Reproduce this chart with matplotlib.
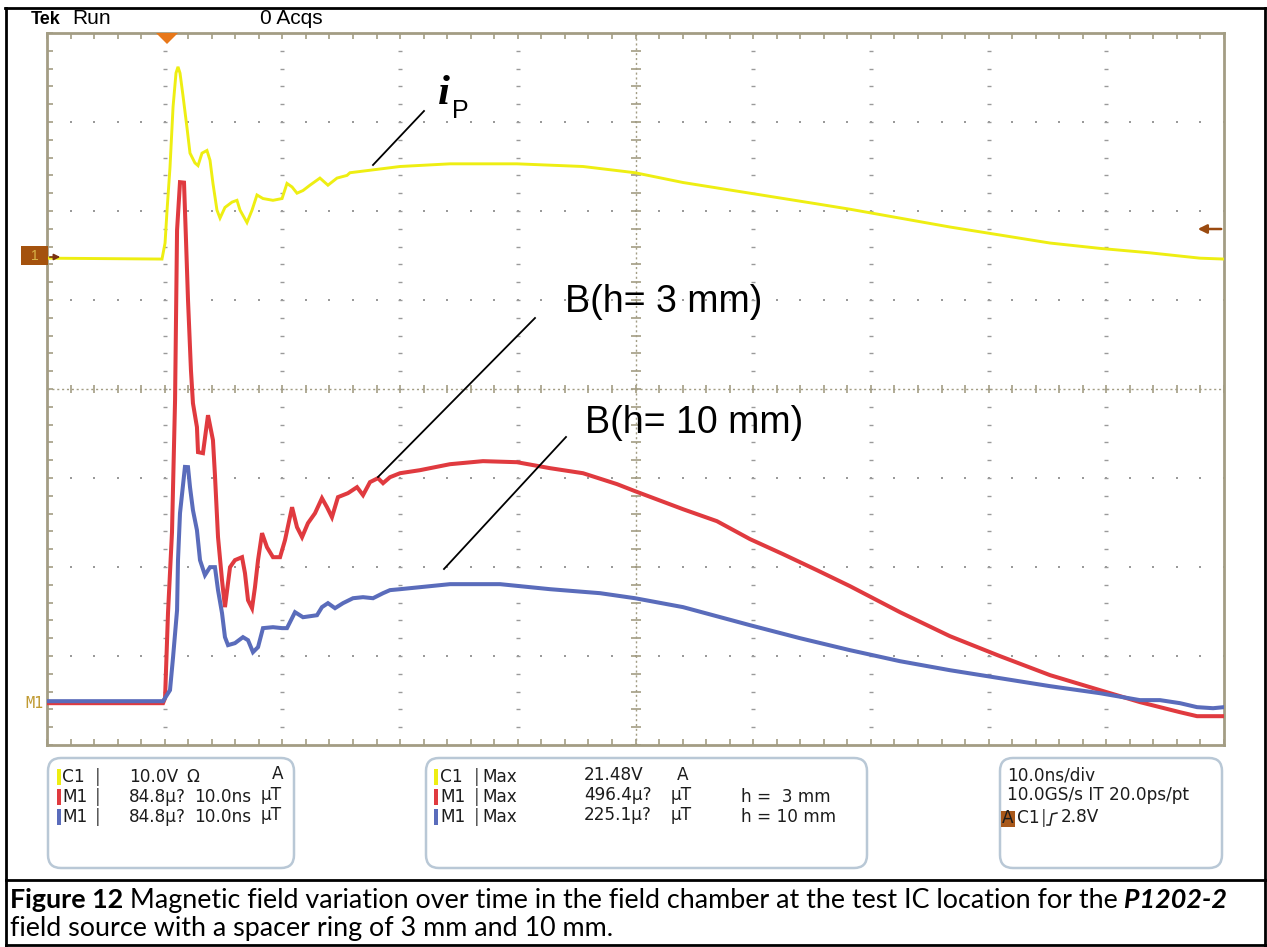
import matplotlib
matplotlib.use('Agg')
import matplotlib.pyplot as plt
import numpy as np
from matplotlib.patches import FancyBboxPatch, Rectangle, Polygon

# ---------------- data ----------------
ip_time_ns = [0.0, 9.77, 10.03, 10.20, 10.45, 10.71, 10.96, 11.13, 11.30, 11.55, 11.89,
              12.15, 12.57, 12.83, 13.17, 13.59, 13.85, 14.10, 14.44, 14.70, 15.12, 15.72,
              16.14, 16.40, 16.99, 17.42, 17.84, 18.35, 19.20, 19.97, 20.39, 20.82, 21.24,
              21.75, 22.34, 23.19, 23.87, 24.64, 25.49, 25.74, 29.99, 34.24, 39.93, 45.54,
              49.96, 54.04, 59.73, 65.42, 68.22, 72.47, 76.72, 80.97, 85.22, 89.46, 93.71,
              97.96, 100.0]
ip_volt = [0.0, -0.1, 1.7, 5.4, 10.2, 17.0, 20.8, 21.5, 20.8, 18.3, 14.7,
           11.8, 10.7, 10.4, 11.8, 12.1, 11.0, 8.4, 5.4, 4.5, 5.7, 6.3,
           6.5, 5.4, 4.0, 5.4, 7.1, 6.7, 6.5, 6.7, 8.4, 8.0, 7.3,
           7.6, 8.2, 9.0, 8.2, 9.0, 9.3, 9.6, 10.3, 10.6, 10.6, 10.3,
           9.6, 8.5, 7.3, 6.1, 5.5, 4.5, 3.5, 2.6, 1.7, 1.1, 0.6,
           0.0, -0.1]

b3_time_ns = [0.0, 9.86, 10.03, 10.28, 10.62, 10.88, 11.05, 11.30, 11.64, 11.81, 11.98,
              12.23, 12.40, 12.74, 12.83, 13.25, 13.68, 14.10, 14.27, 14.53, 14.87, 15.12,
              15.55, 15.97, 16.57, 16.82, 17.08, 17.42, 17.67, 17.93, 18.27, 18.69, 19.20,
              19.80, 20.22, 20.82, 21.24, 21.67, 22.17, 22.77, 23.36, 23.79, 24.21, 24.72,
              25.57, 26.34, 26.85, 27.44, 28.12, 28.55, 29.14, 29.99, 31.69, 34.24, 37.04,
              39.93, 42.74, 45.54, 48.43, 49.96, 54.04, 56.92, 59.73, 62.53, 65.42, 68.22,
              72.47, 76.72, 80.97, 85.22, 89.46, 91.16, 92.86, 94.56, 96.26, 97.71, 100.0]
b3_uT = [0.0, 0.0, 4.8, 85.8, 162.9, 288.7, 450.7, 496.4, 496.0, 441.1, 384.2,
         317.3, 285.8, 263.0, 239.2, 238.2, 274.4, 250.6, 217.2, 158.2, 117.2, 91.5,
         129.6, 136.3, 139.1, 123.9, 98.1, 90.5, 110.5, 136.3, 162.0, 148.6, 139.1,
         139.1, 155.3, 186.7, 167.7, 158.2, 171.5, 181.0, 195.3, 186.7, 177.2, 196.3,
         200.1, 205.8, 198.2, 210.6, 214.4, 209.6, 215.3, 219.1, 222.0, 227.7, 230.6,
         229.6, 223.9, 219.1, 208.7, 202.0, 184.8, 173.4, 156.3, 142.0, 126.7, 111.5,
         86.7, 63.8, 44.8, 26.7, 12.4, 6.7, 1.0, -3.8, -8.6, -12.4, -12.4]

b10_time_ns = [0.0, 9.86, 10.45, 10.71, 11.05, 11.13, 11.30, 11.72, 11.98, 12.15, 12.40,
               12.74, 13.00, 13.42, 13.85, 14.27, 14.53, 14.87, 15.12, 15.38, 15.97, 16.65,
               17.08, 17.50, 17.93, 18.35, 19.20, 19.97, 20.39, 21.07, 21.75, 22.94, 23.36,
               23.87, 24.47, 25.15, 26.00, 26.85, 27.70, 28.55, 29.14, 29.99, 34.24, 38.49,
               42.74, 46.99, 49.96, 54.04, 59.73, 63.98, 68.22, 72.47, 76.72, 80.97, 85.22,
               89.46, 92.86, 94.56, 96.26, 97.71, 99.07, 100.0]
b10_uT = [1.9, 1.9, 12.4, 43.8, 88.6, 136.3, 181.0, 225.1, 224.9, 205.8, 183.9,
          164.8, 136.3, 122.0, 129.6, 129.6, 107.7, 85.8, 62.9, 55.3, 57.2, 62.9,
          60.0, 48.6, 53.4, 71.5, 72.4, 71.5, 71.5, 86.7, 81.9, 83.8, 91.5,
          95.3, 90.5, 95.3, 100.0, 101.0, 100.0, 104.8, 107.7, 108.6, 113.4, 113.4,
          108.6, 104.8, 100.0, 91.5, 74.3, 61.9, 50.5, 40.0, 31.4, 23.8, 16.2,
          9.5, 2.9, 2.9, 0.0, -3.8, -4.8, -3.8]

ch1_volts_per_div = 10.0
m1_uT_per_div = 84.8
ch1_offset_div = 5.47
m1_offset_div = 0.47
ns_per_div = 10.0
n_xdiv, n_ydiv = 10, 8

# ---------------- figure ----------------
W, H = 1267, 947
fig = plt.figure(figsize=(W / 100, H / 100), dpi=100)
fig.patch.set_facecolor('white')

TAN = '#a39d84'
GRIDC = '#9a9a9a'
YEL = '#eeee12'
RED = '#e03a3f'
BLU = '#5a6cbb'

px_l, px_r, px_t, px_b = 47, 1224, 33, 745
ax = fig.add_axes([px_l / W, 1 - px_b / H, (px_r - px_l) / W, (px_b - px_t) / H])
ax.set_xlim(0, n_xdiv * ns_per_div)
ax.set_ylim(0, n_ydiv)
ax.set_facecolor('white')
for s in ax.spines.values():
    s.set_color(TAN)
    s.set_linewidth(2.0)
ax.set_xticks(np.arange(0, 101, 10))
ax.set_xticks(np.arange(0, 101, 2), minor=True)
ax.set_yticks(np.arange(0, 9, 1))
ax.set_yticks(np.arange(0, 8.01, 0.2), minor=True)
ax.tick_params(which='both', direction='in', top=True, right=True, bottom=True, left=True,
               length=4, width=1.2, color=TAN, labelbottom=False, labelleft=False)

# graticule dots
minor_x = np.arange(0, 101, 2)
minor_y = np.arange(0, 8.01, 0.2)
for xm in range(10, 100, 10):
    if xm == 50:
        continue
    ax.scatter(np.full(len(minor_y), xm), minor_y, marker='_', s=6, color=GRIDC,
               linewidths=1.0, zorder=1)
for ym in range(1, 8):
    if ym == 4:
        continue
    ax.scatter(minor_x, np.full(len(minor_x), ym), marker='s', s=1.6, color=GRIDC,
               linewidths=0, zorder=1)
# centre cross
ax.axhline(4, color=TAN, lw=1.0, ls=(0, (1.5, 2)), zorder=1)
ax.axvline(50, color=TAN, lw=1.0, ls=(0, (1.5, 2)), zorder=1)
ax.plot(minor_x, np.full(len(minor_x), 4), ls='none', marker='|', ms=6, mew=1.2,
        color=TAN, zorder=1)
ax.plot(np.full(len(minor_y), 50), minor_y, ls='none', marker='_', ms=7, mew=1.2,
        color=TAN, zorder=1)

# channel axes
ax_m = ax.twinx()
ax_m.set_ylim(-m1_offset_div * m1_uT_per_div, (n_ydiv - m1_offset_div) * m1_uT_per_div)
ax_m.set_axis_off()
ax_c = ax.twinx()
ax_c.set_ylim(-ch1_offset_div * ch1_volts_per_div, (n_ydiv - ch1_offset_div) * ch1_volts_per_div)
ax_c.set_axis_off()
for a in (ax_m, ax_c):
    a.set_xlim(0, n_xdiv * ns_per_div)

ax_m.plot(b3_time_ns, b3_uT, color=RED, lw=2.9, solid_joinstyle='miter')
ax_m.plot(b10_time_ns, b10_uT, color=BLU, lw=2.9, solid_joinstyle='miter')
ax_c.plot(ip_time_ns, ip_volt, color=YEL, lw=2.1, solid_joinstyle='miter')

# ---------------- overlay in pixel coordinates ----------------
ov = fig.add_axes([0, 0, 1, 1], zorder=10)
ov.set_xlim(0, W)
ov.set_ylim(H, 0)
ov.set_axis_off()
ov.patch.set_alpha(0)

SANS = 'Liberation Sans'

# header (top of the letters clipped by the border, as in the screenshot)
ov.text(31, 24, 'Tek', fontsize=13, fontweight='bold', family=SANS, va='baseline')
ov.text(72, 24, 'Run', fontsize=15, family=SANS, va='baseline')
ov.text(260, 24, '0 Acqs', fontsize=15, family=SANS, va='baseline')
ov.add_patch(Rectangle((0, 0), W, 8, facecolor='white', edgecolor='none', zorder=3))

# outer borders
ov.plot([5, W], [8, 8], color='black', lw=2.0, zorder=4)
ov.plot([6, 6], [8, H], color='black', lw=2.0, zorder=4)
ov.plot([W - 2, W - 2], [8, H], color='black', lw=2.0, zorder=4)
ov.plot([6, W], [880, 880], color='black', lw=2.0, zorder=4)
ov.plot([6, W], [H - 2, H - 2], color='black', lw=2.0, zorder=4)

# trigger marker
ov.add_patch(Polygon([(156, 33), (178, 33), (167, 44)], closed=True,
                     facecolor='#e8781a', edgecolor='none'))
# ch1 ground marker
ov.add_patch(Rectangle((21, 246), 27, 19, facecolor='#a4520e', edgecolor='none'))
ov.text(34.5, 256, '1', color='#d8b448', fontsize=10, family=SANS, ha='center', va='center')
ov.annotate('', xy=(63, 257), xytext=(47, 257),
            arrowprops=dict(arrowstyle='-|>', color='#7a3010', lw=1.2, mutation_scale=9))
# right reference arrow
ov.annotate('', xy=(1195, 229), xytext=(1224, 229),
            arrowprops=dict(arrowstyle='-|>', color='#9a4a10', lw=1.8, mutation_scale=13))
# M1 marker
ov.text(35, 703, 'M1', color='#c09a32', fontsize=11, family='DejaVu Sans Mono',
        ha='center', va='center')

# annotation leaders
ov.plot([373, 424], [165, 111], color='black', lw=1.3)
ov.plot([378, 535], [477, 318], color='black', lw=1.3)
ov.plot([444, 566], [569, 437], color='black', lw=1.3)
ov.text(438, 104, 'i', fontsize=31, family='Liberation Serif', fontweight='bold',
        fontstyle='italic', va='baseline')
ov.text(452, 118, 'P', fontsize=18, family=SANS, va='baseline')
ov.text(565, 302, 'B(h= 3 mm)', fontsize=27, family=SANS, va='center')
ov.text(585, 423, 'B(h= 10 mm)', fontsize=27, family=SANS, va='center')

# info boxes
BOXE = '#b9c8d6'
for (x0, x1) in [(48, 294), (426, 867), (1000, 1222)]:
    ov.add_patch(FancyBboxPatch((x0, 758), x1 - x0, 110,
                                boxstyle='round,pad=0,rounding_size=13',
                                facecolor='white', edgecolor=BOXE, lw=1.8))

TXT = '#1c1c1c'
FS = 12.2
BOXF = 'DejaVu Sans'
rows = [777, 797, 817]
sw_cols = [YEL, RED, BLU]
for r, c in zip(rows, sw_cols):
    ov.add_patch(Rectangle((56.5, r - 8), 4.5, 16, facecolor=c, edgecolor='none'))
    ov.add_patch(Rectangle((433.5, r - 8), 4.5, 16, facecolor=c, edgecolor='none'))


def t(x, y, s, **kw):
    d = dict(fontsize=FS, family=BOXF, color=TXT, va='center')
    d.update(kw)
    ov.text(x, y, s, **d)

# box 1
t(62, rows[0], 'C1')
t(62, rows[1], 'M1')
t(62, rows[2], 'M1')
for r in rows:
    t(95, r, '|', color='#444444')
t(129, rows[0], '10.0V')
t(186, rows[0], 'Ω')
t(272, rows[0] - 3, 'A')
t(129, rows[1], '84.8µ?')
t(129, rows[2], '84.8µ?')
t(194, rows[1], '10.0ns')
t(194, rows[2], '10.0ns')
t(261, rows[1] - 2, 'µT')
t(261, rows[2] - 2, 'µT')

# box 2
t(440, rows[0], 'C1')
t(440, rows[1], 'M1')
t(440, rows[2], 'M1')
for r in rows:
    t(474, r, '|', color='#444444')
    t(482, r, 'Max')
t(584, rows[0] - 2, '21.48V')
t(677, rows[0] - 2, 'A')
t(584, rows[1] - 2, '496.4µ?')
t(584, rows[2] - 2, '225.1µ?')
t(671, rows[1] - 2, 'µT')
t(671, rows[2] - 2, 'µT')
t(741, rows[1], 'h =  3 mm')
t(741, rows[2], 'h = 10 mm')

# box 3
t(1007, rows[0] - 2, '10.0ns/div')
t(1007, rows[1] - 2, '10.0GS/s IT 20.0ps/pt')
ov.add_patch(Rectangle((1001, 811), 14, 16, facecolor='#a8581a', edgecolor='none'))
t(1008, rows[2] + 1, 'A', ha='center')
t(1017, rows[2] + 1, 'C1')
t(1041, rows[2] + 1, '|', color='#444444')
ov.plot([1047, 1050, 1052, 1057], [825, 825, 814, 813], color=TXT, lw=1.1)
t(1061, rows[2], '2.8V')

# ---------------- caption ----------------
renderer = fig.canvas.get_renderer()
CAPF = ['Lato', 'DejaVu Sans']
line1 = [('Figure 12', 'bold', 'normal'),
         (' Magnetic field variation over time in the field chamber at the test IC location for the', 'normal', 'normal'),
         (' P1202-2', 'bold', 'italic')]
line2 = [('field source with a spacer ring of 3 mm and 10 mm.', 'normal', 'normal')]


def draw_line(segs, x, y, fs):
    arts = []
    for s, wt, st in segs:
        a = ov.text(x, y, s, fontsize=fs, family=CAPF, fontweight=wt, fontstyle=st,
                    va='baseline', color='black')
        bb = a.get_window_extent(renderer)
        x += bb.width
        arts.append(a)
    return x, arts

end, arts = draw_line(line1, 10, 908, 10)
natural = end - 10
cap_fs = 10 * 1220 / natural
for a in arts:
    a.remove()
draw_line(line1, 10, 908, cap_fs)
draw_line(line2, 10, 936, cap_fs)

fig.savefig('out.png', dpi=100)
